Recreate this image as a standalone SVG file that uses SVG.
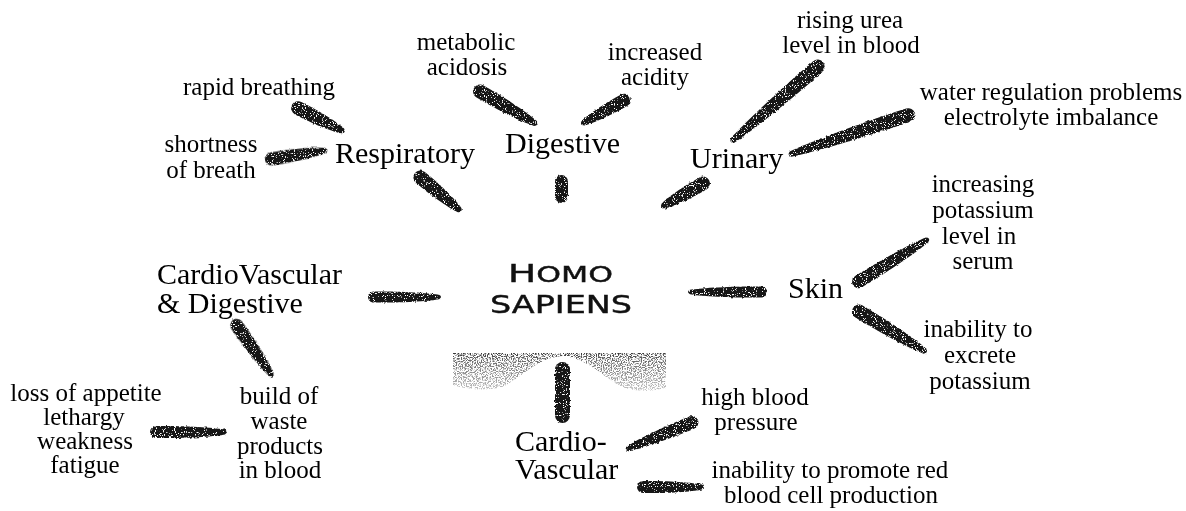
<svg xmlns="http://www.w3.org/2000/svg" width="1186" height="511" viewBox="0 0 1186 511">
<defs>
<style>
.lb{font-family:"Liberation Serif","Times New Roman",serif;font-size:25px;fill:#000;text-anchor:middle}
.big{font-family:"Liberation Serif","Times New Roman",serif;font-size:30px;fill:#000}
.hs{font-family:"DejaVu Sans","Liberation Sans",sans-serif;fill:#111;stroke:#111;stroke-width:0.4px}
.br{fill:#151515}
</style>
<filter id="brush" x="-5%" y="-5%" width="110%" height="110%">
<feTurbulence type="fractalNoise" baseFrequency="0.35" numOctaves="1" seed="7" result="edge"/>
<feDisplacementMap in="SourceGraphic" in2="edge" scale="3" xChannelSelector="R" yChannelSelector="G" result="rough"/>
<feTurbulence type="fractalNoise" baseFrequency="0.9" numOctaves="1" seed="3" result="n"/>
<feColorMatrix in="n" type="matrix" values="0 0 0 0 1  0 0 0 0 1  0 0 0 0 1  12 0 0 0 -7.3" result="spk"/>
<feComposite in="spk" in2="rough" operator="in" result="spkIn"/>
<feMerge><feMergeNode in="rough"/><feMergeNode in="spkIn"/></feMerge>
</filter>
<linearGradient id="archg" x1="0" y1="0" x2="0" y2="1">
<stop offset="0" stop-color="#333"/>
<stop offset="0.15" stop-color="#666"/>
<stop offset="1" stop-color="#c4c4c4"/>
</linearGradient>
<filter id="halftone" x="0" y="0" width="100%" height="100%">
<feTurbulence type="fractalNoise" baseFrequency="0.8" numOctaves="1" seed="11" result="n"/>
<feColorMatrix in="n" type="matrix" values="0 0 0 0 0  0 0 0 0 0  0 0 0 0 0  7 0 0 0 -3.2" result="m"/>
<feComposite in="SourceGraphic" in2="m" operator="in"/>
</filter>
</defs>
<rect width="1186" height="511" fill="#fff"/>

<g id="connectors" filter="url(#brush)">
<path class="br" transform="translate(474 88) rotate(30)" d="M7,-7 C33.3,-7.5 62.9,-4.9 71,-2.8 Q75,0 71,2.8 C62.9,4.9 33.3,7.5 7,7 A7 7 0 0 1 7,-7Z"/>
<path class="br" transform="translate(630 97) rotate(150.8)" d="M6.5,-6.5 C25.7,-7 48.5,-4.6 54,-2.6 Q58,0 54,2.6 C48.5,4.6 25.7,7 6.5,6.5 A6.5 6.5 0 0 1 6.5,-6.5Z"/>
<path class="br" transform="translate(415 173) rotate(39.7)" d="M7,-7 C27.5,-7.5 51.9,-4.9 58,-2.8 Q62,0 58,2.8 C51.9,4.9 27.5,7.5 7,7 A7 7 0 0 1 7,-7Z"/>
<rect class="br" x="555" y="175" width="13" height="28" rx="6.5"/>
<path class="br" transform="translate(709 180) rotate(150.3)" d="M7,-7 C25.2,-7.5 47.6,-4.9 53,-2.8 Q57,0 53,2.8 C47.6,4.9 25.2,7.5 7,7 A7 7 0 0 1 7,-7Z"/>
<path class="br" transform="translate(292 105) rotate(27)" d="M7,-7 C27,-7.5 51,-4.9 57,-2.8 Q61,0 57,2.8 C51,4.9 27,7.5 7,7 A7 7 0 0 1 7,-7Z"/>
<path class="br" transform="translate(265 160) rotate(-9)" d="M6.5,-6.5 C28.8,-7 54.4,-4.6 61,-2.6 Q65,0 61,2.6 C54.4,4.6 28.8,7 6.5,6.5 A6.5 6.5 0 0 1 6.5,-6.5Z"/>
<path class="br" transform="translate(823 62) rotate(139)" d="M7,-7 C55.4,-7.5 104.6,-4.9 120,-2.8 Q124,0 120,2.8 C104.6,4.9 55.4,7.5 7,7 A7 7 0 0 1 7,-7Z"/>
<path class="br" transform="translate(915 113) rotate(161.7)" d="M7,-7 C60.3,-7.5 113.9,-4.9 131,-2.8 Q135,0 131,2.8 C113.9,4.9 60.3,7.5 7,7 A7 7 0 0 1 7,-7Z"/>
<path class="br" transform="translate(767 292) rotate(180)" d="M5.5,-5.5 C36,-6 68,-3.9 77,-2.2 Q81,0 77,2.2 C68,3.9 36,6 5.5,5.5 A5.5 5.5 0 0 1 5.5,-5.5Z"/>
<path class="br" transform="translate(853 285) rotate(-31.4)" d="M6.5,-6.5 C40.5,-7 76.5,-4.6 87,-2.6 Q91,0 87,2.6 C76.5,4.6 40.5,7 6.5,6.5 A6.5 6.5 0 0 1 6.5,-6.5Z"/>
<path class="br" transform="translate(853 308) rotate(31)" d="M7,-7 C39.2,-7.5 74,-4.9 84,-2.8 Q88,0 84,2.8 C74,4.9 39.2,7.5 7,7 A7 7 0 0 1 7,-7Z"/>
<path class="br" transform="translate(368 297)" d="M5.5,-5.5 C33.3,-6 62.9,-3.9 71,-2.2 Q75,0 71,2.2 C62.9,3.9 33.3,6 5.5,5.5 A5.5 5.5 0 0 1 5.5,-5.5Z"/>
<path class="br" transform="translate(233 320) rotate(54.9)" d="M6.5,-6.5 C31.5,-7 59.5,-4.6 67,-2.6 Q71,0 67,2.6 C59.5,4.6 31.5,7 6.5,6.5 A6.5 6.5 0 0 1 6.5,-6.5Z"/>
<path class="br" transform="translate(150 432)" d="M6,-6 C35.1,-6.5 66.3,-4.2 75,-2.4 Q79,0 75,2.4 C66.3,4.2 35.1,6.5 6,6 A6 6 0 0 1 6,-6Z"/>
<rect class="br" x="555" y="362" width="15" height="61" rx="7.5"/>
<path class="br" transform="translate(698 420) rotate(157.7)" d="M6.5,-6.5 C35.6,-7 67.2,-4.6 76,-2.6 Q80,0 76,2.6 C67.2,4.6 35.6,7 6.5,6.5 A6.5 6.5 0 0 1 6.5,-6.5Z"/>
<path class="br" transform="translate(637 487)" d="M6,-6 C30.6,-6.5 57.8,-4.2 65,-2.4 Q69,0 65,2.4 C57.8,4.2 30.6,6.5 6,6 A6 6 0 0 1 6,-6Z"/>
</g>

<g id="n-arch">
<path d="M453,353 L666,353 L666,388 Q645,394 625,388 C605,380 590,358 562,356 C535,358 520,380 500,388 Q475,392 453,385 Z" fill="url(#archg)" filter="url(#halftone)"/>
</g>

<g id="n-homo">
<text class="hs" x="508" y="282" textLength="105" lengthAdjust="spacingAndGlyphs"><tspan font-size="25">H</tspan><tspan font-size="21">OMO</tspan></text>
<text class="hs" x="490" y="313" font-size="24" textLength="142" lengthAdjust="spacingAndGlyphs">SAPIENS</text>
</g>

<g id="n-respiratory"><text class="big" x="335" y="163">Respiratory</text></g>
<g id="n-digestive"><text class="big" x="505" y="153">Digestive</text></g>
<g id="n-urinary"><text class="big" x="690" y="168">Urinary</text></g>
<g id="n-skin"><text class="big" x="788" y="298">Skin</text></g>
<g id="n-cvd"><text class="big" x="157" y="284">CardioVascular</text><text class="big" x="157" y="313">&amp; Digestive</text></g>
<g id="n-cv"><text class="big" x="515" y="451">Cardio-</text><text class="big" x="515" y="479">Vascular</text></g>

<g id="n-metabolic"><text class="lb" x="466" y="50">metabolic</text><text class="lb" x="467" y="75">acidosis</text></g>
<g id="n-increased"><text class="lb" x="655" y="60">increased</text><text class="lb" x="655" y="85">acidity</text></g>
<g id="n-rising"><text class="lb" x="850" y="28">rising urea</text><text class="lb" x="851" y="53">level in blood</text></g>
<g id="n-water"><text class="lb" x="1051" y="100">water regulation problems</text><text class="lb" x="1051" y="125">electrolyte imbalance</text></g>
<g id="n-rapid"><text class="lb" x="259" y="95">rapid breathing</text></g>
<g id="n-shortness"><text class="lb" x="211" y="152">shortness</text><text class="lb" x="211" y="178">of breath</text></g>
<g id="n-increasing"><text class="lb" x="983" y="192">increasing</text><text class="lb" x="983" y="218">potassium</text><text class="lb" x="979" y="244">level in</text><text class="lb" x="983" y="269">serum</text></g>
<g id="n-inability"><text class="lb" x="978" y="337">inability to</text><text class="lb" x="980" y="363">excrete</text><text class="lb" x="980" y="389">potassium</text></g>
<g id="n-highbp"><text class="lb" x="755" y="405">high blood</text><text class="lb" x="756" y="430">pressure</text></g>
<g id="n-rbc"><text class="lb" x="830" y="478">inability to promote red</text><text class="lb" x="831" y="503">blood cell production</text></g>
<g id="n-loss"><text class="lb" x="86" y="401">loss of appetite</text><text class="lb" x="84" y="425">lethargy</text><text class="lb" x="85" y="449">weakness</text><text class="lb" x="85" y="473">fatigue</text></g>
<g id="n-build"><text class="lb" x="279" y="404">build of</text><text class="lb" x="279" y="429">waste</text><text class="lb" x="280" y="454">products</text><text class="lb" x="280" y="478">in blood</text></g>
</svg>
